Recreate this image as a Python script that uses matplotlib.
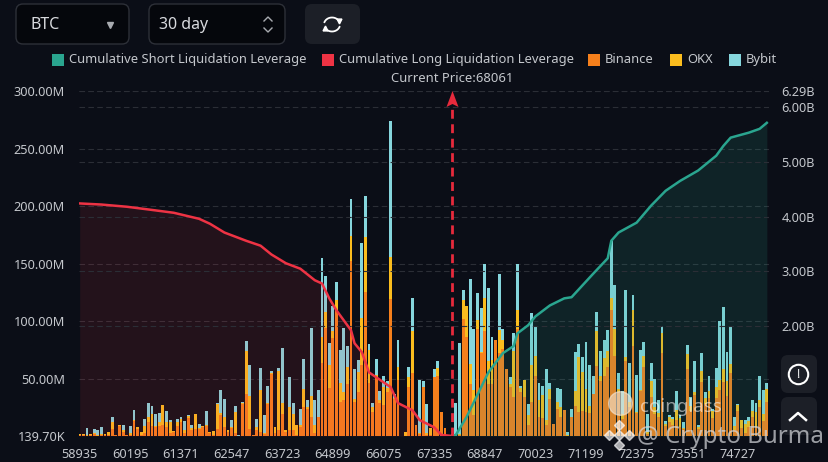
import numpy as np
import matplotlib
matplotlib.use('Agg')
import matplotlib.pyplot as plt
from matplotlib.patches import FancyBboxPatch, Rectangle, Polygon

plt.rcParams['font.family'] = ['Noto Sans', 'DejaVu Sans']

BG = '#0b0e17'
TEXT = '#c4c7cc'
GRID = '#2b2e36'
ORANGE = '#f6801c'
YELLOW = '#fbbd1e'
CYAN = '#86d6dd'
RED = '#ee3344'
TEAL = '#2aa58f'

# liquidation per price bucket, in millions
binance = [1, 1, 0.5, 1, 2, 0, 1, 1, 1, 6,
	1, 9, 4, 1, 1, 13, 6, 1, 3, 12,
	9, 8, 9, 10, 8, 3, 4, 9, 12, 3,
	16, 5, 6, 6, 8, 9, 3, 1, 6, 18,
	8, 4, 7, 3, 0.5, 28, 37, 6, 1, 5,
	4, 2, 28, 54, 3, 5, 19, 4, 5, 5,
	1, 8, 25, 24, 17, 3, 17, 64, 94, 42,
	85, 110, 30, 31, 45, 152, 30, 38, 62, 125,
	46, 21, 51, 29, 27, 38, 119, 32, 49, 0,
	0.5, 43, 55, 10, 2, 43, 1, 1, 51, 52,
	21, 7, 0, 0, 1, 1, 102, 86, 45, 18,
	93, 72, 91, 45, 45, 84, 72, 76, 58, 43,
	34, 93, 38, 34, 10, 30, 52, 17, 16, 10,
	32, 11, 24, 17, 23, 0.5, 17, 26, 21, 22,
	21, 20, 37, 61, 48, 52, 60, 110, 70, 38,
	15, 65, 25, 78, 20, 39, 60, 2, 34, 19,
	17, 72, 9, 12, 10, 14, 8, 6, 58, 22,
	36, 6, 47, 28, 33, 16, 33, 40, 47, 35,
	55, 5, 22, 7, 3, 8, 17, 8, 25, 13, 30]
okx = [1, 1, 0.5, 1, 1, 1, 1, 1, 2.5, 6,
	0, 0.5, 1, 0, 2, 1, 2, 2.5, 6, 5,
	10, 1, 3, 17, 4, 9, 0.5, 3, 3, 2,
	1.5, 2, 13, 1, 0.5, 1, 0.5, 3.5, 22, 2,
	9, 1, 1, 18, 0, 1, 37, 29, 0, 3,
	36, 1, 1, 1, 5, 52, 10, 1, 20, 14,
	9, 2, 16, 1, 18, 7, 0, 22, 14, 20,
	6, 8, 16, 7, 15, 22, 2, 18, 41, 48,
	29, 4, 2, 2, 16, 4, 37, 1, 11, 0,
	3, 8, 36, 0, 1, 0, 2, 6, 0, 7,
	0, 0, 0, 0, 0.5, 1, 16, 27, 18, 22,
	8, 1, 29, 20, 21, 0, 20, 8, 0, 2,
	40, 17, 4, 15, 8, 32, 18, 14, 20, 4,
	9, 0, 6, 8, 0, 0.5, 0, 13, 48, 34,
	20, 6, 0, 30, 4, 16, 14, 10, 23, 3,
	4, 4, 5, 32, 1, 1, 10, 2, 14, 6,
	3, 18, 2, 5, 5, 9, 8, 1, 13, 4,
	2, 2, 10, 5, 6, 6, 10, 9, 11, 13,
	8, 4, 5, 7, 8, 5, 5, 13, 6, 6, 11]
bybit = [0, 0, 6, 0, 3, 4, 6, 0, 0, 5,
	0, 0.5, 5, 0, 6, 9, 0, 0, 6, 12,
	7, 10, 8, 0, 10, 2, 0, 3, 2, 8,
	0.5, 3, 0, 4, 0.5, 12, 0, 0, 1, 20,
	15, 0, 6, 5, 0.5, 1, 9, 27, 0, 7,
	19, 15, 15, 2, 0, 2, 48, 0, 26, 10,
	0, 14, 26, 6, 59, 21, 23, 69, 31, 19,
	22, 16, 29, 56, 18, 32, 26, 10, 65, 36,
	5, 4, 14, 8, 9, 6, 118, 4, 24, 0,
	0, 9, 29, 0, 46, 5, 25, 0, 7, 6,
	0, 0, 0, 2, 27.5, 79, 9, 0, 74, 53,
	23, 38, 30, 64, 20, 0, 49, 9, 0, 6,
	16, 40, 2, 0, 10, 45, 26, 15, 8, 44,
	5, 0, 12, 16, 0, 3, 7, 34, 11, 13,
	41, 36, 15, 17, 22, 16, 18, 50, 38, 14,
	20, 58, 34, 13, 32, 35, 12, 15, 16, 25,
	11, 6, 2, 1, 2, 16, 2, 5, 8, 8,
	27, 2, 15, 5, 13, 2, 16, 51, 54, 25,
	32, 8, 1, 0, 3, 4, 9, 8, 21, 21, 5]

# cumulative lines, read at bucket index, in billions
long_idx = [0, 6, 13, 19, 26, 33, 36, 40, 46, 50, 53, 57, 61, 65, 67, 69, 71, 75, 76, 78, 80, 86, 88, 92, 94, 98, 100, 103]
long_val = [4.24, 4.22, 4.18, 4.13, 4.07, 3.96, 3.87, 3.71, 3.56, 3.47, 3.31, 3.15, 3.05, 2.84, 2.78, 2.51, 2.29, 1.93, 1.69, 1.53, 1.16, 0.89, 0.60, 0.47, 0.29, 0.16, 0.02, 0]
short_idx = [103, 104, 107, 111, 113, 117, 120, 121, 124, 126, 130, 134, 136, 142, 146, 147, 149, 154, 158, 162, 166, 171, 176, 178, 180, 185, 188, 190]
short_val = [0, 0.02, 0.35, 0.89, 1.16, 1.51, 1.64, 1.87, 2.02, 2.18, 2.38, 2.51, 2.53, 2.96, 3.24, 3.56, 3.71, 3.89, 4.2, 4.47, 4.65, 4.84, 5.11, 5.29, 5.44, 5.53, 5.6, 5.71]

price_labels = ['58935', '60195', '61371', '62547', '63723', '64899', '66075', '67335', '68847', '70023', '71199', '72375', '73551', '74727']
left_ticks = [0.1397, 50, 100, 150, 200, 250, 300]
left_labels = ['139.70K', '50.00M', '100.00M', '150.00M', '200.00M', '250.00M', '300.00M']
right_ticks = [2, 3, 4, 5, 6, 6.29]
right_labels = ['2.00B', '3.00B', '4.00B', '5.00B', '6.00B', '6.29B']
current_idx = 103

W, H = 829, 462
fig = plt.figure(figsize=(W / 100, H / 100), dpi=100, facecolor=BG)
ax = fig.add_axes([79 / W, 1 - 436 / H, 690 / W, 345 / H], facecolor=BG)
ax2 = ax.twinx()

x = np.arange(len(binance))
b = np.array(binance, dtype=float)
o = np.array(okx, dtype=float)
y = np.array(bybit, dtype=float)
ax.bar(x, b, width=0.8, color=ORANGE)
ax.bar(x, o, width=0.8, bottom=b, color=YELLOW)
ax.bar(x, y, width=0.8, bottom=b + o, color=CYAN)

ax.set_xlim(-0.2, 190.6)
ax.set_ylim(left_ticks[0], 300)
ax.set_xticks(np.arange(len(price_labels)) * 14, price_labels)
ax.set_yticks(left_ticks, left_labels)
ax.tick_params(axis='both', length=0, labelcolor=TEXT, labelsize=9.2)
ax.tick_params(axis='x', pad=9)
ax.tick_params(axis='y', pad=10)
ax.grid(axis='y', ls=(0, (5, 3)), color=GRID, lw=0.8)
ax.set_axisbelow(True)

# areas go over the bars, that is what tints them
ax2.fill_between(long_idx, long_val, 0, color=RED, alpha=0.11, lw=0)
ax2.fill_between(short_idx, short_val, 0, color=TEAL, alpha=0.14, lw=0)
ax2.plot(long_idx, long_val, color=RED, lw=1.8)
ax2.plot(short_idx, short_val, color=TEAL, lw=1.8)
ax2.plot([current_idx, current_idx], [0, 6.0], color='#e62a3c', lw=2, ls=(0, (3.2, 2)))
ax2.set_ylim(0, 6.29)
ax2.set_yticks(right_ticks, right_labels)
ax2.tick_params(axis='y', length=0, labelcolor=TEXT, labelsize=9.2, pad=9)
ax2.grid(axis='y', ls=(0, (5, 3)), color=GRID, lw=0.8)

for a in (ax, ax2):
	for s in a.spines.values():
		s.set_visible(False)

# page chrome above the chart, drawn in pixel coordinates
ui = fig.add_axes([0, 0, 1, 1], facecolor='none', zorder=10)
ui.set_xlim(0, W)
ui.set_ylim(H, 0)
ui.axis('off')

def box(x0, y0, x1, y1, face, edge='none'):
	ui.add_patch(FancyBboxPatch((x0 + 6, y0 + 6), x1 - x0 - 12, y1 - y0 - 12,
		boxstyle='round,pad=6,rounding_size=7', fc=face, ec=edge, lw=1))

box(16, 4, 129, 44, '#05070c', '#2d3038')
box(149, 4, 285, 44, '#05070c', '#2d3038')
box(305, 4, 360, 44, '#1c1f27')
ui.text(31, 25, 'BTC', color='#d8dade', fontsize=11.5, va='center')
ui.text(159, 25, '30 day', color='#d8dade', fontsize=11.5, va='center')
ui.plot([110], [24.5], marker='v', color='#a8abb0', ms=5)
ui.plot([264, 268, 272], [21, 17, 21], color='#a8abb0', lw=1)
ui.plot([264, 268, 272], [28, 32, 28], color='#a8abb0', lw=1)

# refresh icon
t = np.radians(np.arange(200, 340, 10))
ui.plot(332 + 8 * np.cos(t), 24.5 + 7 * np.sin(t), color='white', lw=1.3)
t = np.radians(np.arange(20, 160, 10))
ui.plot(332 + 8 * np.cos(t), 24.5 + 7 * np.sin(t), color='white', lw=1.3)
ui.plot([339], [21], marker='v', color='white', ms=3.5)
ui.plot([325], [28], marker='^', color='white', ms=3.5)

legend = [(52, TEAL, 'Cumulative Short Liquidation Leverage', 69),
	(322, RED, 'Cumulative Long Liquidation Leverage', 339),
	(588, ORANGE, 'Binance', 605),
	(670, YELLOW, 'OKX', 687),
	(729, CYAN, 'Bybit', 746)]
for x0, c, label, tx in legend:
	ui.add_patch(Rectangle((x0, 53.5), 12, 12, fc=c, ec='none'))
	ui.text(tx, 59.5, label, color=TEXT, fontsize=9.35, va='center')
ui.text(452, 78, 'Current Price:68061', color=TEXT, fontsize=9.4, ha='center', va='center')

# price arrow head
ui.add_patch(Polygon([(452.5, 91), (446.5, 107), (452.5, 104), (458.5, 107)], fc='#e62a3c', ec='none'))

# buttons at the right
box(781, 355, 817, 393, '#1c1f27')
box(781, 397, 817, 435, '#1c1f27')
ui.plot([798], [374], marker='o', mfc='none', mec='white', mew=1.5, ms=14)
ui.text(798, 374, '!', color='white', fontsize=9, fontweight='bold', ha='center', va='center')
ui.plot([790, 798, 806], [420, 413, 420], color='white', lw=1.8)

# watermarks
ui.text(640, 407, 'coinglass', color='white', alpha=0.55, fontsize=13.5, fontweight='bold', va='center')
ui.text(637, 437, '@ Crypto Burma', color='#d4d6da', alpha=0.72, fontsize=17.4, va='center')
ui.plot([619, 609, 629, 619, 619], [425, 435, 435, 445, 435], ls='none', marker='D', color='white', alpha=0.65, ms=5)
ui.plot([620], [403], marker='o', color='#f4e8d8', alpha=0.6, ms=17)

fig.savefig('out.png', dpi=100, facecolor=BG)
